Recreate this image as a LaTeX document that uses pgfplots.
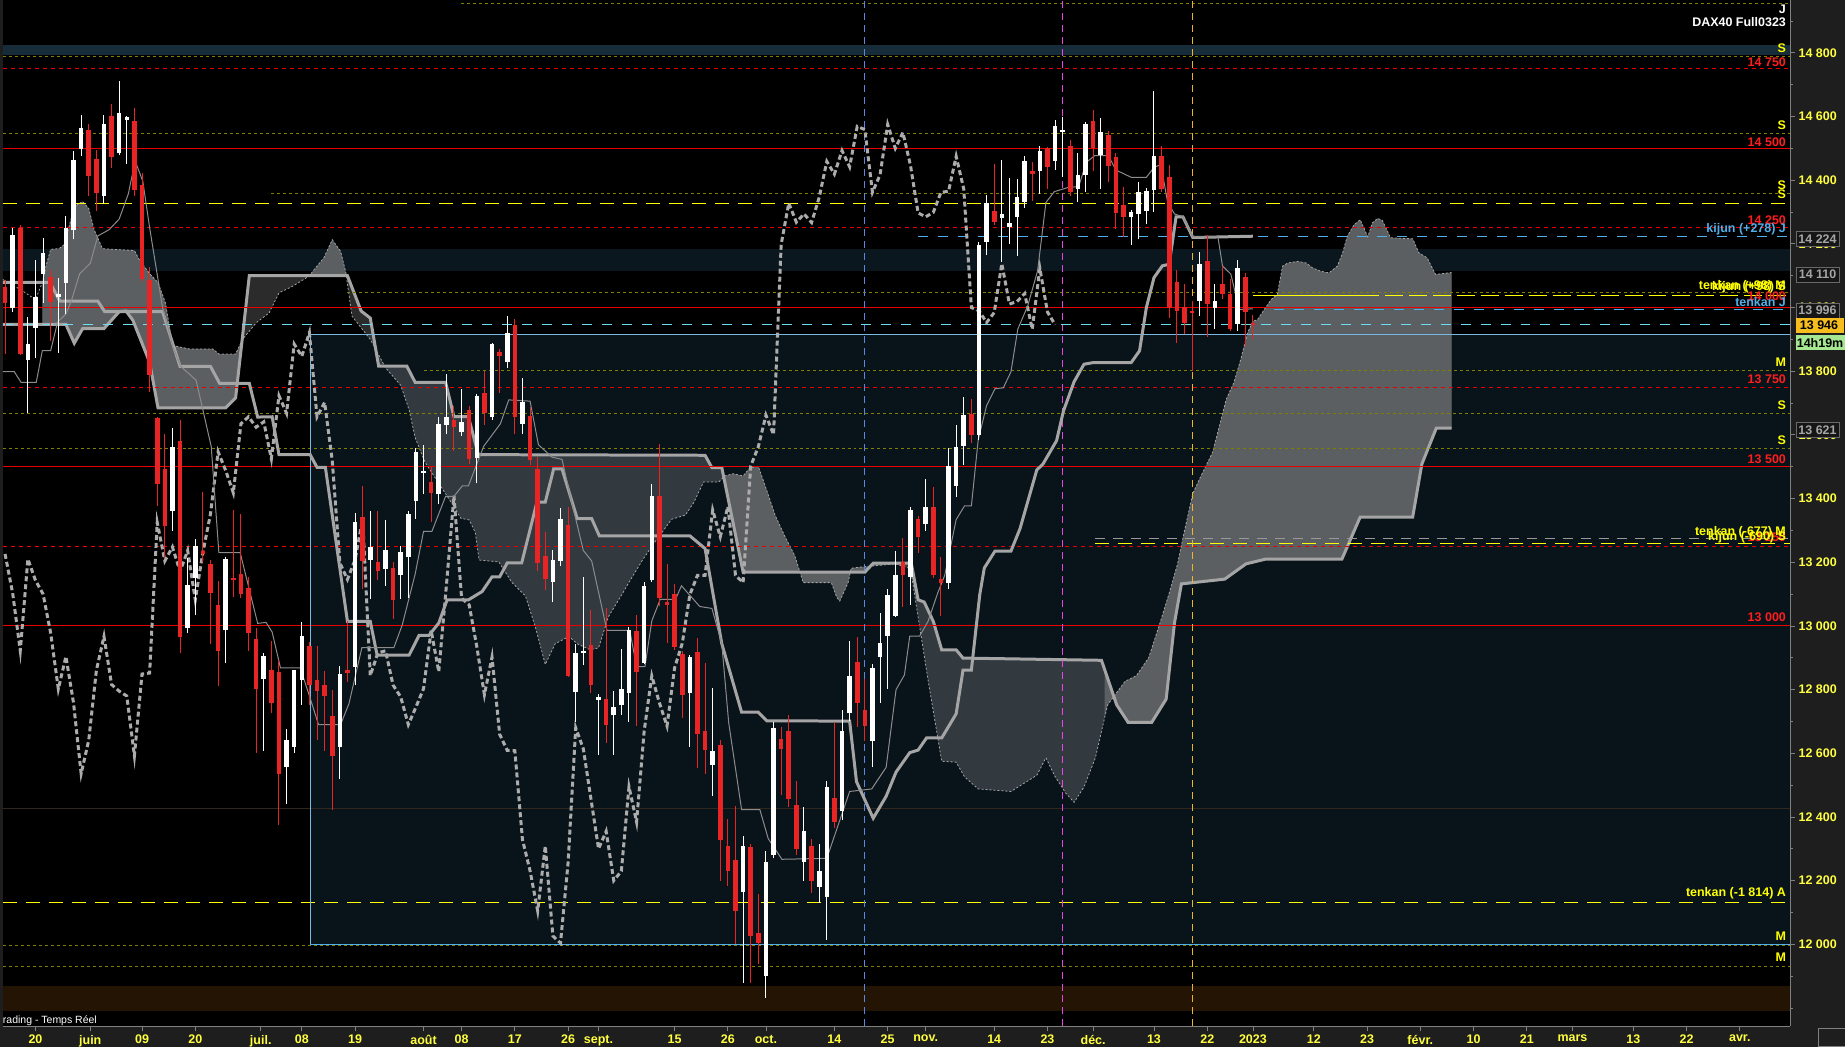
\documentclass[border=0pt]{standalone}
\usepackage{fontspec}
\setmainfont{Liberation Sans}
\usepackage{pgfplots}
\usepackage{pgfplotstable}
\pgfplotsset{compat=1.18}
\usepgfplotslibrary{fillbetween}

\definecolor{panelbg}{RGB}{30,30,30}
\definecolor{candlered}{RGB}{232,36,36}
\definecolor{levelred}{RGB}{235,0,0}
\definecolor{lblred}{RGB}{255,30,30}
\definecolor{olivelvl}{RGB}{128,128,0}
\definecolor{lvlyellow}{RGB}{255,255,0}
\definecolor{tickyellow}{RGB}{255,255,64}
\definecolor{cyanlvl}{RGB}{110,220,240}
\definecolor{bluelvl}{RGB}{80,175,235}
\definecolor{rectfill}{RGB}{9,19,26}
\definecolor{rectedge}{RGB}{120,185,225}
\definecolor{bandnavy}{RGB}{10,23,31}
\definecolor{bandtop}{RGB}{22,44,56}
\definecolor{bandbrown}{RGB}{35,20,4}
\definecolor{cloudup}{RGB}{92,95,98}
\definecolor{ichi}{RGB}{165,165,165}
\definecolor{tenk}{RGB}{140,140,140}
\definecolor{chik}{RGB}{172,172,172}
\definecolor{vblue}{RGB}{90,135,225}
\definecolor{vmag}{RGB}{230,70,230}
\definecolor{vorange}{RGB}{240,180,40}
\definecolor{boxbg}{RGB}{22,22,22}
\definecolor{boxedge}{RGB}{105,105,105}
\definecolor{boxtext}{RGB}{165,165,165}
\definecolor{darkline}{RGB}{48,40,30}
\definecolor{curbox}{RGB}{245,190,30}
\definecolor{timebox}{RGB}{165,232,145}

\newcommand{\lbl}{\fontsize{12.5}{14}\selectfont\bfseries}
\newcommand{\rlab}[3]{\node[anchor=east, inner sep=0pt, text=#1, font=\lbl] at (1786,#2) {#3};}
\newcommand{\pbox}[5]{\draw[fill=#1, draw=#2, line width=0.8pt] (1796,#4-7.5) rectangle (1839,#4+7.5);
  \node[font=\lbl, text=#3] at (1817.5,#4) {#5};}

% daily candles, index 0 = 2 Jan 2023 (trading days)
\pgfplotstableread{
i o h l c
-164 14066 14086 13854 14013
-162 14249 14258 13850 13854
-158 14095 14119 13894 14017
-153 14558 14578 14351 14413
-152 14467 14496 14304 14361
-150 14602 14638 14437 14472
-147 14586 14628 14351 14370
-146 14386 14423 14082 14089
-145 14086 14128 13735 13788
-144 13653 13656 13378 13447
-143 13493 13603 13213 13315
-141 13582 13648 12915 12964
-138 13235 13421 13200 13226
-137 13196 13206 12942 13103
-136 13066 13140 12812 12922
-134 13151 13365 13090 13143
-133 13164 13352 13087 13100
-132 13120 13153 12922 12977
-131 12959 12992 12602 12802
-129 12860 12952 12725 12758
-128 12855 12893 12374 12536
-124 12937 12950 12751 12816
-123 12831 12937 12641 12795
-122 12814 12857 12608 12780
-121 12718 12800 12423 12592
-119 12860 13014 12824 12852
-117 13342 13440 13116 13204
-115 13201 13360 13143 13171
-113 13182 13201 13022 13082
-108 13452 13498 13327 13418
-105 13648 13690 13549 13624
-103 13679 13690 13509 13525
-101 13731 13800 13630 13668
-99 13860 13871 13731 13847
-97 13945 13963 13602 13657
-95 13660 13689 13504 13520
-94 13493 13530 13172 13198
-93 13220 13296 13113 13146
-90 13318 13374 12840 12844
-87 12941 13051 12790 12814
-85 12771 13057 12632 12690
-81 12983 13035 12686 12856
-78 13409 13572 13064 13087
-77 13074 13194 12947 13066
-76 13100 13133 12925 12935
-75 12911 12920 12710 12784
-73 12918 12962 12553 12660
-72 12671 12882 12534 12609
-70 12625 12642 12199 12329
-69 12309 12393 12182 12231
-68 12265 12434 12000 12105
-66 12307 12316 11879 12026
-65 12036 12159 11939 12004
-62 12645 12681 12468 12614
-61 12671 12720 12431 12457
-60 12437 12514 12280 12300
-58 12309 12330 12160 12200
-55 12460 12697 12366 12384
-52 12887 12965 12681 12758
-51 12736 12834 12640 12686
-46 13201 13277 13060 13159
-44 13337 13344 13230 13280
-42 13372 13436 13151 13159
-41 13146 13215 13032 13136
-37 13666 13712 13573 13601
-34 14302 14451 14259 14268
-29 14430 14456 14335 14419
-27 14500 14503 14372 14442
-24 14506 14527 14351 14362
-21 14585 14621 14428 14500
-19 14543 14556 14393 14446
-18 14472 14484 14248 14297
-17 14323 14379 14220 14285
-12 14477 14506 14362 14372
-11 14409 14449 13967 14000
-10 14079 14117 13888 13990
-9 14002 14073 13916 13953
-8 13990 14021 13800 13984
-6 14147 14229 13906 14011
-4 14073 14129 14026 14044
-3 14044 14089 13925 13932
-1 14097 14110 13880 13986
0 13952 13977 13901 13946
}\redc

\pgfplotstableread{
i o h l c
-163 14000 14251 13987 14229
-161 13835 13970 13669 13885
-160 13936 14149 13841 14033
-159 14106 14218 14013 14172
-157 14033 14093 13857 14044
-156 14077 14288 13980 14251
-155 14245 14493 14214 14463
-154 14499 14605 14476 14565
-151 14351 14606 14324 14578
-149 14485 14710 14479 14612
-148 14590 14602 14450 14597
-142 13362 13622 13299 13563
-140 12995 13213 12977 13130
-139 13151 13272 13034 13250
-135 12988 13216 12882 13210
-130 12833 12915 12608 12904
-127 12558 12677 12440 12641
-126 12619 12863 12602 12860
-125 12831 13011 12751 12967
-120 12619 12875 12520 12849
-118 12871 13355 12813 13325
-116 13207 13360 13086 13248
-114 13179 13333 13124 13237
-112 13160 13251 13086 13231
-111 13215 13360 13088 13352
-110 13391 13560 13336 13547
-109 13480 13569 13415 13488
-107 13413 13657 13382 13635
-106 13632 13791 13602 13657
-104 13608 13745 13597 13641
-102 13527 13730 13448 13723
-100 13655 13888 13648 13885
-98 13830 13973 13811 13921
-96 13634 13780 13602 13702
-92 13139 13240 13074 13208
-91 13204 13370 13188 13337
-89 12794 12944 12699 12915
-88 12915 13155 12876 12922
-86 12768 12785 12595 12777
-84 12719 12797 12595 12745
-83 12751 12928 12720 12803
-82 12790 12996 12699 12986
-80 12885 13139 12879 13126
-79 13143 13445 13139 13409
-74 12788 12910 12621 12902
-71 12563 12805 12465 12608
-67 12163 12341 11879 12309
-64 11902 12292 11831 12257
-63 12280 12697 12270 12680
-59 12260 12431 12200 12355
-57 12180 12315 12130 12230
-56 12150 12514 12014 12495
-54 12419 12736 12389 12671
-53 12727 12953 12701 12843
-50 12640 12880 12556 12869
-49 12902 13040 12758 12945
-48 12968 13116 12803 13098
-47 13032 13235 13029 13159
-45 13154 13375 13067 13364
-43 13319 13463 13299 13375
-40 13136 13559 13116 13502
-39 13441 13631 13406 13563
-38 13566 13718 13505 13662
-36 13601 14206 13585 14198
-35 14206 14355 14165 14328
-33 14282 14462 14142 14294
-32 14252 14406 14199 14267
-31 14285 14404 14163 14346
-30 14333 14475 14314 14459
-28 14430 14508 14356 14493
-26 14461 14590 14432 14569
-25 14552 14597 14411 14559
-23 14372 14484 14333 14417
-22 14416 14582 14362 14575
-20 14479 14594 14372 14550
-16 14283 14307 14197 14299
-15 14294 14393 14215 14362
-14 14304 14374 14262 14365
-13 14369 14681 14299 14475
-7 14021 14173 13974 14138
-5 14000 14073 13932 14019
-2 13948 14149 13927 14123
}\whitec

\begin{document}
\pagecolor{panelbg}
\begin{tikzpicture}[x=1pt,y=1pt]
\path (0,-21) rectangle (1845,1028);
\begin{axis}[
  at={(0,0)}, anchor=south west,
  scale only axis, width=1790pt, height=1028pt,
  xmin=-164.3, xmax=70.6, ymin=11742, ymax=14966,
  set layers, clip mode=individual,
  axis background/.style={fill=black},
  axis x line*=bottom, axis y line*=right,
  axis line style={draw=gray, line width=0.8pt, -},
  tick align=outside,
  major tick length=5pt, minor tick length=3pt,
  tick style={gray, line width=0.8pt},
  ytick={12000,12200,...,14800},
  yticklabels={12 000,12 200,12 400,12 600,12 800,13 000,13 200,13 400,13 600,13 800,14 000,14 200,14 400,14 600,14 800},
  minor ytick={11800,11900,...,14900},
  xtick={-160,-152.8,-146,-139,-130.4,-125,-118,-109,-104,-97,-90,-86,-76,-69,-64,-55,-48,-43,-34,-27,-21,-13,-6,0,8,15,22,29,36,42,50,57,64},
  xticklabels={20,juin,09,20,juil.,08,19,août,08,17,26,sept.,15,26,oct.,14,25,nov.,14,23,déc.,13,22,2023,12,23,févr.,10,21,mars,13,22,avr.},
  tick label style={font=\lbl, text=tickyellow},
  yticklabel style={anchor=west},
  xticklabel style={anchor=north},
]

% zones
\addplot[draw=none, fill=bandtop, on layer=axis background, forget plot] coordinates {(-164.3,14793) (70.6,14793) (70.6,14826) (-164.3,14826)} --cycle;
\addplot[draw=none, fill=bandnavy, on layer=axis background, forget plot] coordinates {(-164.3,14115) (70.6,14115) (70.6,14185) (-164.3,14185)} --cycle;
\addplot[draw=none, fill=rectfill, on layer=axis background, forget plot] coordinates {(-123.9,12000) (70.6,12000) (70.6,13916) (-123.9,13916)} --cycle;
\addplot[draw=none, fill=bandbrown, on layer=axis background, forget plot] coordinates {(-164.3,11792) (70.6,11792) (70.6,11868) (-164.3,11868)} --cycle;

% senkou span A and B (shifted 26 bars)
\addplot[draw=gray!70, line width=0.8pt, dash pattern=on 2pt off 2pt, name path=A, forget plot] coordinates {
(-164.3,14088) (-162,14057) (-160,14025) (-159.1,14079) (-158.6,14132) (-158,14183) (-156.9,14185) (-156.2,14198)
(-154.9,14317) (-153.8,14333) (-153,14311) (-152.3,14245) (-151.2,14185) (-147,14179) (-146.4,14152) (-145,14106)
(-143.9,14079) (-142.9,14013) (-142,13881) (-139.8,13870) (-136.7,13870) (-135.9,13854) (-133.7,13854) (-132.8,13900)
(-131,13952) (-129.3,13983) (-128,14046) (-126.2,14067) (-124.1,14098) (-122.1,14156) (-121,14213) (-119.9,14177)
(-119.2,14109) (-118.9,14057) (-118.4,13973) (-116,13900) (-114,13811) (-112,13756) (-110.9,13679) (-110.1,13591)
(-108.8,13514) (-107,13448) (-105.2,13382) (-104.1,13338) (-103,13333) (-102.2,13294) (-101.7,13207) (-99.1,13201)
(-97.4,13137) (-95.6,13094) (-94.3,12996) (-93,12879) (-91.7,12944) (-89.9,12967) (-88.8,12944) (-87.1,12925)
(-86,12931) (-84.7,13029) (-82.9,13100) (-82.1,13133) (-80.3,13204) (-79,13250) (-76.4,13335) (-74.6,13348)
(-73.5,13387) (-72.2,13452) (-70.2,13452) (-69.4,13471) (-68.3,13478) (-67,13471) (-66.1,13497) (-65,13501)
(-63.9,13426) (-62.8,13348) (-61.5,13281) (-60.2,13220) (-59.1,13136) (-55.4,13136) (-54.7,13090) (-54.3,13078)
(-53.2,13136) (-52.8,13181) (-51.9,13184) (-47,13195) (-45,13180) (-42.7,12831) (-40.9,12575) (-39,12572)
(-37.9,12526) (-36.1,12488) (-31.8,12480) (-28.4,12531) (-27.2,12586) (-26.1,12531) (-24.6,12475) (-23.5,12446)
(-22.2,12494) (-20.7,12586) (-19.1,12752) (-16.8,12826) (-15.3,12844) (-13.7,12900) (-12.2,13010) (-11,13103)
(-9.9,13195) (-9.1,13287) (-7.9,13416) (-6.8,13472) (-5.3,13545) (-3.5,13712) (-2.5,13764) (-1.6,13837)
(-0.7,13921) (0,13957) (0.6,13962) (1.5,13994) (2.4,14025) (3.2,14041) (3.9,14130) (4.6,14140) (5.9,14145)
(7,14140) (7.8,14125) (8.9,14114) (10,14109) (11.1,14130) (11.8,14172) (12.4,14224) (13.3,14260) (14.1,14276)
(15.1,14222) (15.7,14266) (16.4,14280) (17,14274) (18.1,14219) (21,14216) (21.8,14172) (22.9,14156) (24,14104) (26.1,14110)
};
\addplot[draw=ichi, line width=3pt, name path=B, forget plot] coordinates {
(-164.3,13947) (-156,13947) (-154.9,13888) (-153.8,13934) (-151,13934) (-149,13987) (-148.1,13989) (-147.2,13960)
(-146.1,13894) (-145,13828) (-143.9,13685) (-135,13685) (-133.7,13716) (-132.8,13907) (-131.9,14100) (-119,14100)
(-117.2,13989) (-116,13967) (-114.9,13816) (-111.2,13816) (-110.1,13765) (-106.1,13765) (-105,13657) (-103.1,13657)
(-101.8,13538) (-72,13536) (-71.1,13497) (-69.8,13497) (-67,13169) (-51,13169) (-49.9,13197) (-44.9,13197)
(-44,13082) (-43.2,13075) (-42,13014) (-40.9,12925) (-39,12925) (-38.1,12899) (-19.9,12892) (-17.9,12752)
(-16.4,12697) (-13.3,12697) (-11.4,12770) (-10.3,13010) (-9.4,13132) (-3.7,13147) (-0.9,13195) (1.7,13210)
(11.7,13210) (14.1,13342) (21,13342) (22.2,13508) (24.1,13621) (26.1,13621)
};
\addplot[fill=white, fill opacity=0.17, draw=none, forget plot] fill between[of=A and B, soft clip={domain=-159.1:26.1}];
\addplot[fill=cloudup, draw=none, forget plot] fill between[of=A and B, soft clip={domain=-159.1:-132.9}];
\addplot[fill=cloudup, draw=none, forget plot] fill between[of=A and B, soft clip={domain=-123.9:-119.1}];
\addplot[fill=cloudup, draw=none, forget plot] fill between[of=A and B, soft clip={domain=-69.6:-46}];
\addplot[fill=cloudup, draw=none, forget plot] fill between[of=A and B, soft clip={domain=-19.5:26.1}];

% horizontal levels
\addplot[darkline, line width=0.8pt, forget plot] coordinates {(-164.3,12426) (70.6,12426)};
\addplot[olivelvl, line width=0.8pt, dash pattern=on 3pt off 3pt, forget plot] coordinates {(-104.1,14955) (70.6,14955)};
\addplot[olivelvl, line width=0.8pt, dash pattern=on 3pt off 3pt, forget plot] coordinates {(-164.3,14788) (70.6,14788)};
\addplot[olivelvl, line width=0.8pt, dash pattern=on 3pt off 3pt, forget plot] coordinates {(-164.3,14547) (70.6,14547)};
\addplot[olivelvl, line width=0.8pt, dash pattern=on 3pt off 3pt, forget plot] coordinates {(-129,14357) (70.6,14357)};
\addplot[olivelvl, line width=0.8pt, dash pattern=on 3pt off 3pt, forget plot] coordinates {(-119,14046) (70.6,14046)};
\addplot[olivelvl, line width=0.8pt, dash pattern=on 3pt off 3pt, forget plot] coordinates {(-109,13802) (70.6,13802)};
\addplot[olivelvl, line width=0.8pt, dash pattern=on 3pt off 3pt, forget plot] coordinates {(-164.3,13667) (70.6,13667)};
\addplot[olivelvl, line width=0.8pt, dash pattern=on 3pt off 3pt, forget plot] coordinates {(-164.3,13558) (70.6,13558)};
\addplot[olivelvl, line width=0.8pt, dash pattern=on 3pt off 3pt, forget plot] coordinates {(-164.3,11995) (70.6,11995)};
\addplot[olivelvl, line width=0.8pt, dash pattern=on 3pt off 3pt, forget plot] coordinates {(-164.3,11930) (70.6,11930)};
\addplot[lvlyellow, line width=1pt, dash pattern=on 14pt off 9pt, forget plot] coordinates {(-164.3,14326) (70.6,14326)};
\addplot[lvlyellow, line width=1pt, forget plot] coordinates {(0,14038) (14.2,14038)};
\addplot[lvlyellow, line width=1pt, dash pattern=on 18pt off 6pt, forget plot] coordinates {(14.2,14038) (70.6,14038)};
\addplot[gray!80, line width=1pt, dash pattern=on 10pt off 8pt, forget plot] coordinates {(-20.7,13274) (70.6,13274)};
\addplot[lvlyellow, line width=1pt, dash pattern=on 14pt off 9pt, forget plot] coordinates {(-20.7,13260) (70.6,13260)};
\addplot[lvlyellow, line width=1pt, dash pattern=on 14pt off 9pt, forget plot] coordinates {(-164.3,12130) (70.6,12130)};
\addplot[levelred, line width=1pt, forget plot] coordinates {(-164.3,14500) (70.6,14500)};
\addplot[levelred, line width=1pt, forget plot] coordinates {(-164.3,14000) (70.6,14000)};
\addplot[levelred, line width=1pt, forget plot] coordinates {(-164.3,13500) (70.6,13500)};
\addplot[levelred, line width=1pt, forget plot] coordinates {(-164.3,13000) (70.6,13000)};
\addplot[levelred, line width=1pt, dash pattern=on 4pt off 4pt, forget plot] coordinates {(-164.3,14750) (70.6,14750)};
\addplot[levelred, line width=1pt, dash pattern=on 4pt off 4pt, forget plot] coordinates {(-164.3,14250) (70.6,14250)};
\addplot[levelred, line width=1pt, dash pattern=on 4pt off 4pt, forget plot] coordinates {(-164.3,13750) (70.6,13750)};
\addplot[levelred, line width=1pt, dash pattern=on 4pt off 4pt, forget plot] coordinates {(-164.3,13250) (70.6,13250)};
\addplot[cyanlvl, line width=1pt, dash pattern=on 10pt off 10pt, forget plot] coordinates {(-164.3,13946) (70.6,13946)};
\addplot[bluelvl, line width=1pt, dash pattern=on 10pt off 10pt, forget plot] coordinates {(-44,14224) (70.6,14224)};
\addplot[bluelvl, line width=1pt, dash pattern=on 10pt off 10pt, forget plot] coordinates {(2.8,13993) (70.6,13993)};
% selection box
\addplot[rectedge, line width=1pt, forget plot] coordinates {(70.6,13916) (-123.9,13916) (-123.9,12000)};
\addplot[bluelvl, line width=1pt, forget plot] coordinates {(-123.9,12000) (70.6,12000)};

% vertical markers
\addplot[vblue, line width=1pt, dash pattern=on 7pt off 5pt, forget plot] coordinates {(-51,11742) (-51,14966)};
\addplot[vmag, line width=1pt, dash pattern=on 7pt off 5pt, forget plot] coordinates {(-25,11742) (-25,14966)};
\addplot[vorange, line width=1pt, dash pattern=on 7pt off 5pt, forget plot] coordinates {(-8,11742) (-8,14966)};

% chikou span (closes shifted back 26 bars)
\addplot[chik, line width=3pt, dash pattern=on 5pt off 3pt, forget plot] coordinates {
(-164,13226) (-163,13103) (-162,12922) (-161,13210) (-160,13143) (-159,13100) (-158,12977) (-157,12802) (-156,12904)
(-155,12758) (-154,12536) (-153,12641) (-152,12860) (-151,12967) (-150,12816) (-149,12795) (-148,12780) (-147,12592)
(-146,12849) (-145,12852) (-144,13325) (-143,13204) (-142,13248) (-141,13171) (-140,13237) (-139,13082) (-138,13231)
(-137,13352) (-136,13547) (-135,13488) (-134,13418) (-133,13635) (-132,13657) (-131,13624) (-130,13641) (-129,13525)
(-128,13723) (-127,13668) (-126,13885) (-125,13847) (-124,13921) (-123,13657) (-122,13702) (-121,13520) (-120,13198)
(-119,13146) (-118,13208) (-117,13337) (-116,12844) (-115,12915) (-114,12922) (-113,12814) (-112,12777) (-111,12690)
(-110,12745) (-109,12803) (-108,12986) (-107,12856) (-106,13126) (-105,13409) (-104,13087) (-103,13066) (-102,12935)
(-101,12784) (-100,12902) (-99,12660) (-98,12609) (-97,12608) (-96,12329) (-95,12231) (-94,12105) (-93,12309)
(-92,12026) (-91,12004) (-90,12257) (-89,12680) (-88,12614) (-87,12457) (-86,12300) (-85,12355) (-84,12200)
(-83,12230) (-82,12495) (-81,12384) (-80,12671) (-79,12843) (-78,12758) (-77,12686) (-76,12869) (-75,12945)
(-74,13098) (-73,13159) (-72,13159) (-71,13364) (-70,13280) (-69,13375) (-68,13159) (-67,13136) (-66,13502)
(-65,13563) (-64,13662) (-63,13601) (-62,14198) (-61,14328) (-60,14268) (-59,14294) (-58,14267) (-57,14346)
(-56,14459) (-55,14419) (-54,14493) (-53,14442) (-52,14569) (-51,14559) (-50,14362) (-49,14417) (-48,14575)
(-47,14500) (-46,14550) (-45,14446) (-44,14297) (-43,14285) (-42,14299) (-41,14362) (-40,14365) (-39,14475)
(-38,14372) (-37,14000) (-36,13990) (-35,13953) (-34,13984) (-33,14138) (-32,14011) (-31,14019) (-30,14044)
(-29,13932) (-28,14123) (-27,13986) (-26,13946)
};

% kijun
\addplot[ichi, line width=3pt, forget plot] coordinates {
(-164.3,14079) (-158.1,14079) (-156.8,14020) (-151.8,14020) (-150.9,13987) (-143.3,13987) (-141,13815) (-137,13815)
(-135.8,13762) (-131.9,13762) (-130.8,13656) (-128.9,13657) (-128,13538) (-123.9,13538) (-123,13498) (-121.9,13498)
(-119,13014) (-116,13014) (-115.1,12908) (-110.9,12908) (-109.6,12970) (-108.3,12970) (-107,13009) (-105.9,13082)
(-103.1,13082) (-101.3,13108) (-100,13154) (-99,13154) (-98,13198) (-96.1,13198) (-94.1,13389) (-93,13389)
(-91.9,13493) (-90.8,13493) (-88.8,13337) (-86.9,13337) (-85.9,13283) (-74,13283) (-72,13243) (-69.8,12944)
(-67.2,12729) (-65,12729) (-63.9,12702) (-53,12701) (-52.1,12511) (-49.9,12396) (-48.2,12465) (-46.9,12541)
(-45.1,12602) (-44,12610) (-42.9,12648) (-40.9,12648) (-39,12724) (-38.1,12861) (-37,12861) (-35.9,13098)
(-35.3,13182) (-33.9,13235) (-31.8,13235) (-30.6,13306) (-28.4,13490) (-27.6,13508) (-25.8,13582) (-24.9,13675)
(-23.5,13767) (-22.2,13822) (-21,13827) (-16,13827) (-14.9,13864) (-14,14000) (-13,14094) (-11.9,14131)
(-11,14136) (-10.1,14285) (-9.2,14285) (-7.9,14220) (0,14224)
};

% tenkan
\addplot[tenk, line width=1pt, forget plot] coordinates {
(-164.3,13799) (-162.8,13799) (-161.9,13765) (-159.9,13765) (-159.1,13865) (-158,13865) (-157.1,13954) (-156,13980)
(-155.3,14020) (-154.2,14106) (-152.8,14139) (-151.8,14225) (-150.3,14245) (-149,14278) (-147.8,14357) (-146.9,14460)
(-145.9,14397) (-145,14251) (-143.3,14000) (-141.9,13874) (-140.9,13815) (-138.9,13772) (-138.1,13689) (-136.9,13563)
(-135.9,13230) (-133.1,13230) (-130.8,13008) (-129.7,13011) (-128.9,12981) (-127.8,12868) (-125.2,12868) (-123.9,12773)
(-122.8,12690) (-119.9,12690) (-118.8,12756) (-117.1,12932) (-112.9,12932) (-111.8,13003) (-110.1,13163) (-109,13297)
(-107.9,13297) (-106.1,13407) (-105,13407) (-103.9,13440) (-103.1,13440) (-101.1,13564) (-98.9,13635) (-97.8,13710)
(-95,13706) (-93.9,13569) (-92.1,13530) (-90.8,13523) (-89.7,13406) (-88,13237) (-86.9,13204) (-84.9,12986)
(-81.9,12986) (-81,12872) (-79.9,12872) (-79,13016) (-77.9,13083) (-75.9,13083) (-75.1,13126) (-72.7,13061)
(-71.1,13055) (-69.8,12944) (-68.9,12697) (-67.2,12423) (-64.8,12423) (-63.7,12332) (-61.9,12267) (-56,12270)
(-53,12480) (-50.1,12488) (-48.2,12556) (-46.9,12800) (-45.8,12846) (-45.1,12968) (-43.8,12968) (-42.7,13014)
(-41.4,13105) (-40.5,13159) (-39,13334) (-37.9,13377) (-37,13377) (-36.1,13585) (-35,13692) (-33.9,13745)
(-32.8,13748) (-31.8,13798) (-30.9,13932) (-29.6,14005) (-28.3,14115) (-27.2,14330) (-26.1,14364) (-24.3,14377)
(-22.9,14380) (-21.9,14456) (-20.8,14477) (-19,14477) (-18,14432) (-16,14409) (-14,14409) (-13,14440)
(-12.1,14449) (-11.2,14330) (-10.3,14294) (-9.2,14285) (-7.9,14222) (-4.6,14222) (-4,14131) (-2.9,14105)
(-1.8,13994) (0,13996)
};

% candles: wicks then bodies
\addplot[draw=none, mark=none, forget plot, error bars/.cd, y dir=plus, y explicit, error mark=none,
  error bar style={draw=candlered, line width=1pt, solid}]
  table[x=i, y=l, y error expr=\thisrow{h}-\thisrow{l}] {\redc};
\addplot[draw=none, mark=none, forget plot, error bars/.cd, y dir=plus, y explicit, error mark=none,
  error bar style={draw=white, line width=1pt, solid}]
  table[x=i, y=l, y error expr=\thisrow{h}-\thisrow{l}] {\whitec};
\addplot[draw=none, mark=none, forget plot, error bars/.cd, y dir=plus, y explicit, error mark=none,
  error bar style={draw=candlered, line width=4.6pt, solid}]
  table[x=i, y=c, y error expr=\thisrow{o}-\thisrow{c}] {\redc};
\addplot[draw=none, mark=none, forget plot, error bars/.cd, y dir=plus, y explicit, error mark=none,
  error bar style={draw=white, line width=4.6pt, solid}]
  table[x=i, y=o, y error expr=\thisrow{c}-\thisrow{o}] {\whitec};
\end{axis}

% labels on the right side of the chart
\rlab{white}{1019}{J}
\rlab{white}{1006}{DAX40 Full0323}
\rlab{lvlyellow}{980}{S}
\rlab{lblred}{966}{14 750}
\rlab{lvlyellow}{903}{S}
\rlab{lblred}{886}{14 500}
\rlab{lvlyellow}{843}{S}
\rlab{lvlyellow}{833}{S}
\rlab{lblred}{807}{14 250}
\rlab{bluelvl}{798}{kijun (+278) J}
\rlab{lblred}{731}{14 000}
\rlab{lvlyellow}{741}{tenkan (+98) M}
\rlab{lvlyellow}{740}{kijun (+98) S}
\rlab{bluelvl}{725}{tenkan J}
\rlab{lvlyellow}{665}{M}
\rlab{lblred}{648}{13 750}
\rlab{lvlyellow}{622}{S}
\rlab{lvlyellow}{587}{S}
\rlab{lblred}{568}{13 500}
\rlab{lblred}{490}{13 250}
\rlab{lvlyellow}{495}{tenkan (-677) M}
\rlab{lvlyellow}{490}{kijun (-690) S}
\rlab{lblred}{410}{13 000}
\rlab{lvlyellow}{133}{tenkan (-1 814) A}
\rlab{lvlyellow}{90}{M}
\rlab{lvlyellow}{69}{M}

\node[anchor=west, inner sep=0pt, text=white, font=\fontsize{10.5}{12}\selectfont] at (0,6) {rading - Temps Réel};

% price boxes on the scale
\pbox{boxbg}{boxedge}{boxtext}{788.5}{14 224}
\pbox{boxbg}{boxedge}{boxtext}{753}{14 110}
\pbox{boxbg}{boxedge}{boxtext}{717}{13 996}
\pbox{boxbg}{boxedge}{boxtext}{597.5}{13 621}
\fill[curbox] (1796,694) rectangle (1844,710);
\node[font=\lbl, text=black] at (1819,702) {13 946};
\fill[timebox] (1796,677) rectangle (1845,692);
\node[font=\lbl, text=black] at (1820,684.5) {14h19m};
\draw[gray, line width=0.8pt] (1818,-20) rectangle (1845,-2);

\pgfresetboundingbox
\path (0,-21) rectangle (1845,1028);
\end{tikzpicture}
\end{document}
